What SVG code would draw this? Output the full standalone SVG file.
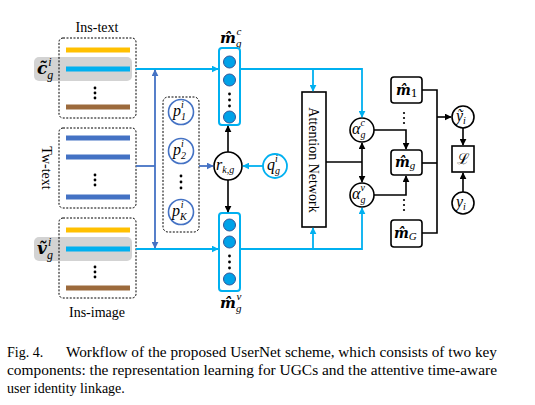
<svg xmlns="http://www.w3.org/2000/svg" width="535" height="405" viewBox="0 0 535 405">
<defs>
<marker id="ab" viewBox="0 0 10 10" refX="9" refY="5" markerWidth="7" markerHeight="7" markerUnits="userSpaceOnUse" orient="auto"><path d="M0,0 L10,5 L0,10 z" fill="#000"/></marker>
<marker id="al" viewBox="0 0 10 10" refX="9" refY="5" markerWidth="7" markerHeight="7" markerUnits="userSpaceOnUse" orient="auto"><path d="M0,0 L10,5 L0,10 z" fill="#00B0F0"/></marker>
<marker id="ad" viewBox="0 0 10 10" refX="9" refY="5" markerWidth="7" markerHeight="7" markerUnits="userSpaceOnUse" orient="auto"><path d="M0,0 L10,5 L0,10 z" fill="#4472C4"/></marker>
</defs>
<style>
.dot{fill:none;stroke:#000;stroke-width:1;stroke-dasharray:2,1.5}
.bar{stroke-width:5}
.lb{fill:none;stroke:#00B0F0;stroke-width:1.8}
.db{fill:none;stroke:#4472C4;stroke-width:1.8}
.bk{fill:none;stroke:#000;stroke-width:1.6}
.t{font-family:"Liberation Serif",serif;font-size:14px;fill:#000}
.m{font-family:"DejaVu Serif","Liberation Serif",serif;font-style:italic;fill:#000}
.mi{font-family:"Liberation Serif","DejaVu Serif",serif;font-style:italic;fill:#000}
.col{fill:#fff;stroke:#00B0F0;stroke-width:2}
.neu{fill:#00A2E8;stroke:#2F5597;stroke-width:1}
.kd{fill:#000}
.pc{fill:#fff;stroke:#4472C4;stroke-width:1.6}
.bx{fill:#fff;stroke:#000;stroke-width:1.6}
</style>
<rect width="535" height="405" fill="#fff"/>

<g id="ins-text">
<text class="t" x="97" y="32" text-anchor="middle">Ins-text</text>
<rect x="34" y="57" width="98" height="24" rx="5" fill="#D3D3D3"/>
<rect class="dot" x="59" y="38" width="77" height="80" rx="4"/>
<line class="bar" x1="66" y1="50" x2="130" y2="50" stroke="#FFC000"/>
<line class="bar" x1="66" y1="69" x2="130" y2="69" stroke="#00B0F0"/>
<circle class="kd" cx="95" cy="88" r="1.4"/><circle class="kd" cx="95" cy="93" r="1.4"/><circle class="kd" cx="95" cy="98" r="1.4"/>
<line class="bar" x1="66" y1="107" x2="130" y2="107" stroke="#9C6A3C"/>
<text class="m" x="37" y="74" font-size="17" font-weight="bold">c&#771;<tspan class="mi" font-size="12" font-weight="normal" dy="5">g</tspan><tspan class="mi" font-size="12" font-weight="normal" dx="-5" dy="-13">i</tspan></text>
</g>

<g id="tw-text">
<text class="t" transform="translate(42,168) rotate(90)" text-anchor="middle">Tw-text</text>
<rect class="dot" x="59" y="128" width="77" height="80" rx="4"/>
<line class="bar" x1="66" y1="138" x2="130" y2="138" stroke="#4472C4"/>
<line class="bar" x1="66" y1="157" x2="130" y2="157" stroke="#4472C4"/>
<circle class="kd" cx="95" cy="175" r="1.4"/><circle class="kd" cx="95" cy="180" r="1.4"/><circle class="kd" cx="95" cy="185" r="1.4"/>
<line class="bar" x1="66" y1="197" x2="130" y2="197" stroke="#4472C4"/>
</g>

<g id="ins-image">
<rect x="34" y="237" width="98" height="24" rx="5" fill="#D3D3D3"/>
<rect class="dot" x="59" y="218" width="77" height="80" rx="4"/>
<line class="bar" x1="66" y1="230" x2="130" y2="230" stroke="#FFC000"/>
<line class="bar" x1="66" y1="249" x2="130" y2="249" stroke="#00B0F0"/>
<circle class="kd" cx="95" cy="267" r="1.4"/><circle class="kd" cx="95" cy="272" r="1.4"/><circle class="kd" cx="95" cy="277" r="1.4"/>
<line class="bar" x1="66" y1="288" x2="130" y2="288" stroke="#9C6A3C"/>
<text class="m" x="37" y="254" font-size="17" font-weight="bold">v&#771;<tspan class="mi" font-size="12" font-weight="normal" dy="5">g</tspan><tspan class="mi" font-size="12" font-weight="normal" dx="-5" dy="-13">i</tspan></text>
<text class="t" x="97" y="317" text-anchor="middle">Ins-image</text>
</g>

<g id="p-set">
<rect class="dot" x="163" y="97" width="36" height="135" rx="5"/>
<circle class="pc" cx="181" cy="112" r="12.5"/>
<text class="mi" x="173" y="116" font-size="16">p<tspan font-size="10" dy="4">1</tspan><tspan font-size="10" dx="-5" dy="-12">i</tspan></text>
<circle class="pc" cx="181" cy="151" r="12.5"/>
<text class="mi" x="173" y="155" font-size="16">p<tspan font-size="10" dy="4">2</tspan><tspan font-size="10" dx="-5" dy="-12">i</tspan></text>
<circle class="kd" cx="181" cy="176" r="1.4"/><circle class="kd" cx="181" cy="182" r="1.4"/><circle class="kd" cx="181" cy="188" r="1.4"/>
<circle class="pc" cx="181" cy="212" r="12.5"/>
<text class="mi" x="172" y="216" font-size="16">p<tspan font-size="10" dy="4">K</tspan><tspan font-size="10" dx="-6" dy="-12">i</tspan></text>
</g>

<g id="m-c">
<text class="m" x="220" y="43" font-size="15" font-weight="bold">m&#770;<tspan class="mi" font-size="11" font-weight="normal" dy="4">g</tspan><tspan class="mi" font-size="11" font-weight="normal" dx="-5" dy="-12">c</tspan></text>
<rect class="col" x="219" y="48" width="21" height="77" rx="3"/>
<circle class="neu" cx="229.5" cy="62" r="6"/>
<circle class="neu" cx="229.5" cy="80" r="6"/>
<circle class="kd" cx="229.5" cy="94" r="1.4"/><circle class="kd" cx="229.5" cy="100" r="1.4"/><circle class="kd" cx="229.5" cy="106" r="1.4"/>
<circle class="neu" cx="229.5" cy="117" r="6"/>
</g>

<g id="m-v">
<rect class="col" x="219" y="213" width="21" height="78" rx="3"/>
<circle class="neu" cx="229.5" cy="225" r="6"/>
<circle class="neu" cx="229.5" cy="242" r="6"/>
<circle class="kd" cx="229.5" cy="256" r="1.4"/><circle class="kd" cx="229.5" cy="262" r="1.4"/><circle class="kd" cx="229.5" cy="268" r="1.4"/>
<circle class="neu" cx="229.5" cy="279" r="6"/>
<text class="m" x="220" y="308" font-size="15" font-weight="bold">m&#770;<tspan class="mi" font-size="11" font-weight="normal" dy="4">g</tspan><tspan class="mi" font-size="11" font-weight="normal" dx="-5" dy="-12">v</tspan></text>
</g>

<g id="r-kg">
<circle cx="228" cy="166" r="14" fill="#fff" stroke="#000" stroke-width="1.6"/>
<text class="mi" x="216" y="170" font-size="16">r<tspan font-size="10" dy="3">k,g</tspan></text>
</g>

<g id="q-g">
<circle cx="275" cy="166" r="12" fill="#fff" stroke="#00B0F0" stroke-width="1.8"/>
<text class="mi" x="267" y="170" font-size="16">q<tspan font-size="10" dy="4">g</tspan><tspan font-size="10" dx="-5" dy="-12">i</tspan></text>
</g>

<g id="attention">
<rect x="302" y="92" width="24" height="135" fill="#fff" stroke="#000" stroke-width="1.6"/>
<text class="t" transform="translate(309,160) rotate(90)" text-anchor="middle" font-size="14">Attention Network</text>
</g>

<g id="alpha-c">
<circle cx="362" cy="130" r="12" fill="#fff" stroke="#000" stroke-width="1.6"/>
<text class="mi" x="352" y="134" font-size="16">α<tspan font-size="10" dy="4">g</tspan><tspan font-size="10" dx="-5" dy="-12">c</tspan></text>
</g>
<g id="alpha-v">
<circle cx="362" cy="195" r="12" fill="#fff" stroke="#000" stroke-width="1.6"/>
<text class="mi" x="352" y="199" font-size="16">α<tspan font-size="10" dy="4">g</tspan><tspan font-size="10" dx="-5" dy="-12">v</tspan></text>
</g>

<g id="m-1">
<rect class="bx" x="391" y="77" width="31" height="26" rx="3"/>
<text class="m" x="396" y="95" font-size="14" font-weight="bold">m&#770;<tspan font-size="11" font-weight="normal" font-style="normal" dy="2">1</tspan></text>
</g>
<g id="m-g">
<rect class="bx" x="391" y="150" width="31" height="25" rx="3"/>
<text class="m" x="395" y="167" font-size="14" font-weight="bold">m&#770;<tspan class="mi" font-size="11" font-weight="normal" dy="2">g</tspan></text>
</g>
<g id="m-G">
<rect class="bx" x="391" y="220" width="31" height="27" rx="3"/>
<text class="m" x="394" y="238" font-size="14" font-weight="bold">m&#770;<tspan class="mi" font-size="11" font-weight="normal" dy="2">G</tspan></text>
</g>
<g id="vdots">
<circle class="kd" cx="404" cy="113" r="1.1"/><circle class="kd" cx="404" cy="118" r="1.1"/><circle class="kd" cx="404" cy="123" r="1.1"/>
<circle class="kd" cx="404" cy="200" r="1.1"/><circle class="kd" cx="404" cy="205" r="1.1"/><circle class="kd" cx="404" cy="210" r="1.1"/>
</g>

<g id="y-tilde">
<circle cx="463" cy="117" r="11" fill="#fff" stroke="#000" stroke-width="1.6"/>
<text class="mi" x="456" y="121" font-size="16">y&#771;<tspan font-size="10" dy="3">i</tspan></text>
</g>
<g id="loss">
<rect class="bx" x="452" y="146" width="22" height="26"/>
<text x="463" y="164" font-size="15" text-anchor="middle" font-family="DejaVu Serif, serif">ℒ</text>
</g>
<g id="y-i">
<circle cx="463" cy="203" r="11" fill="#fff" stroke="#000" stroke-width="1.6"/>
<text class="mi" x="456" y="207" font-size="16">y<tspan font-size="10" dy="3">i</tspan></text>
</g>

<g id="connectors">
<path class="lb" d="M136,69 H218" marker-end="url(#al)"/>
<path class="lb" d="M136,249 H218" marker-end="url(#al)"/>
<path class="db" d="M136,166 H155"/>
<path class="db" d="M155,166 V70" marker-end="url(#ad)"/>
<path class="db" d="M155,166 V248" marker-end="url(#ad)"/>
<path class="db" d="M199,166 H213" marker-end="url(#ad)"/>
<path class="lb" d="M263,166 H243" marker-end="url(#al)"/>
<path class="bk" d="M228,152 V126" marker-end="url(#ab)"/>
<path class="bk" d="M228,180 V212" marker-end="url(#ab)"/>
<path class="lb" d="M240,69 H362 V117" marker-end="url(#al)"/>
<path class="lb" d="M313,69 V91" marker-end="url(#al)"/>
<path class="lb" d="M240,249 H362 V208" marker-end="url(#al)"/>
<path class="lb" d="M313,249 V228" marker-end="url(#al)"/>
<path class="bk" d="M326,162 H362"/>
<path class="bk" d="M362,162 V143" marker-end="url(#ab)"/>
<path class="bk" d="M362,162 V182" marker-end="url(#ab)"/>
<path class="bk" d="M374,130 H406 V149" marker-end="url(#ab)"/>
<path class="bk" d="M374,195 H406 V176" marker-end="url(#ab)"/>
<path class="bk" d="M422,90 H437 V233 H422"/>
<path class="bk" d="M422,163 H437"/>
<path class="bk" d="M437,117 H451" marker-end="url(#ab)"/>
<path class="bk" d="M463,128 V145" marker-end="url(#ab)"/>
<path class="bk" d="M463,192 V173" marker-end="url(#ab)"/>
</g>

<g id="caption">
<text class="t" x="7" y="357" font-size="14">Fig. 4.</text>
<text class="t" x="66" y="357" font-size="14" textLength="431" lengthAdjust="spacingAndGlyphs">Workflow of the proposed UserNet scheme, which consists of two key</text>
<text class="t" x="7" y="375" font-size="14" textLength="490" lengthAdjust="spacingAndGlyphs">components: the representation learning for UGCs and the attentive time-aware</text>
<text class="t" x="7" y="393" font-size="14">user identity linkage.</text>
</g>
</svg>
